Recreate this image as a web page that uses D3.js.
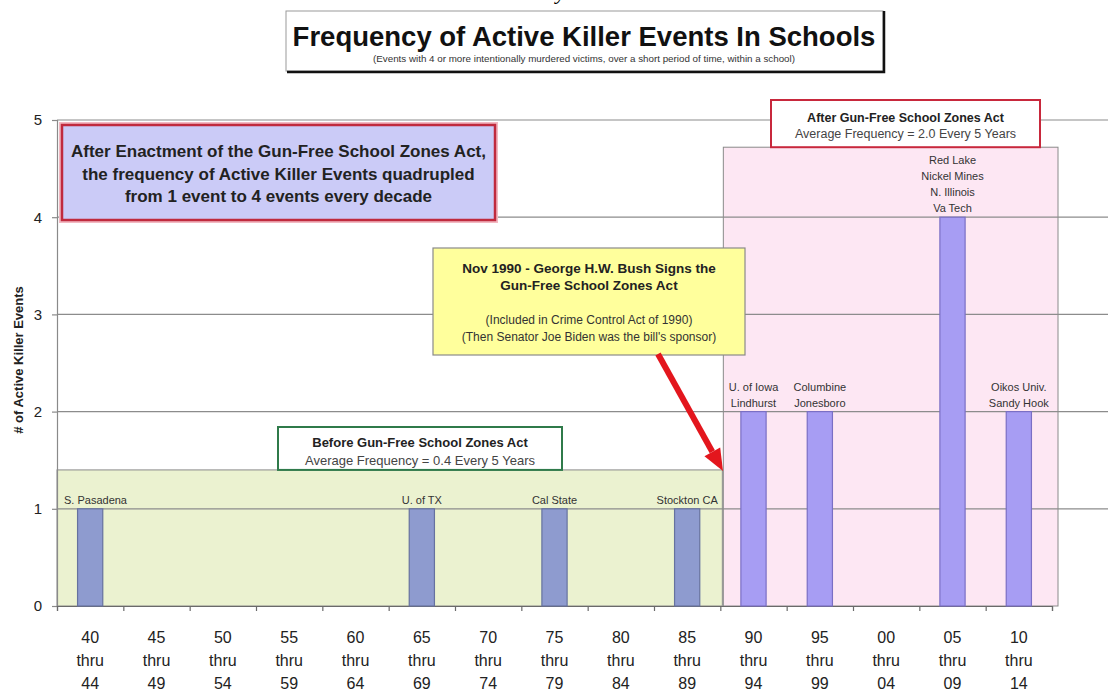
<!DOCTYPE html>
<html><head><meta charset="utf-8">
<script src="https://cdn.jsdelivr.net/npm/d3@7"></script>
<style>
html,body{margin:0;padding:0;background:#fff;}
svg{display:block;font-family:"Liberation Sans",Arial,Helvetica,sans-serif;}
</style></head><body>
<svg id="chart" width="1108" height="693"></svg>
<script>
// ---------------- data ----------------
const periodStart = ["40","45","50","55","60","65","70","75","80","85","90","95","00","05","10"];
const periodEnd   = ["44","49","54","59","64","69","74","79","84","89","94","99","04","09","14"];
const eventCounts = [1,0,0,0,0,1,0,1,0,1,2,2,0,4,2];
const eventNames = [
  ["S. Pasadena"],[],[],[],[],["U. of TX"],[],["Cal State"],[],["Stockton CA"],
  ["U. of Iowa","Lindhurst"],["Columbine","Jonesboro"],[],
  ["Red Lake","Nickel Mines","N. Illinois","Va Tech"],["Oikos Univ.","Sandy Hook"]
];
const actIndex = 10;               // first period after the Act (90 thru 94)
const yTicks = [0,1,2,3,4,5];
const chartTitle = "Frequency of Active Killer Events In Schools";
const chartSubtitle = "(Events with 4 or more intentionally murdered victims, over a short period of time, within a school)";
const yTitle = "# of Active Killer Events";
const summaryLines = ["After Enactment of the Gun-Free School Zones Act,",
  "the frequency of Active Killer Events quadrupled",
  "from 1 event to 4 events every decade"];
const noteBold = ["Nov 1990 - George H.W. Bush Signs the","Gun-Free School Zones Act"];
const noteNormal = ["(Included in Crime Control Act of 1990)","(Then Senator Joe Biden was the bill's sponsor)"];
const beforeLines = ["Before Gun-Free School Zones Act","Average Frequency = 0.4 Every 5 Years"];
const afterLines = ["After Gun-Free School Zones Act","Average Frequency = 2.0 Every 5 Years"];

// ---------------- chart ----------------
const svg = d3.select("#chart");
const W = 1108, H = 693;
const idx = d3.range(periodStart.length);
const x = d3.scaleBand().domain(idx).range([57,1052]).padding(0);
const xLin = d3.scaleLinear().domain([0, idx.length]).range([57,1052]);
const y = d3.scaleLinear().domain([0,5]).range([606,120]);
const bw = x.bandwidth();
const cx = i => x(i) + bw/2;

// stray caption fragment at very top
svg.append("text").attr("x",556).attr("y",-1).attr("font-size",22).attr("font-style","italic")
  .attr("font-family","Liberation Serif, serif").text("y");

// era shading
svg.append("rect").attr("x",x(0)).attr("y",y(1.4)).attr("width",x(actIndex)+2-x(0))
  .attr("height",y(0)-y(1.4)).attr("fill","#ebf2d0").attr("stroke","#8a8a8a").attr("stroke-width",1);
svg.append("rect").attr("x",x(actIndex)+3).attr("y",y(4.72)).attr("width",xLin(idx.length)+6-(x(actIndex)+3))
  .attr("height",y(0)-y(4.72)).attr("fill","#fde7f3").attr("stroke","#8a8a8a").attr("stroke-width",1);

// gridlines
svg.append("g").selectAll("line").data(yTicks.filter(d=>d>0)).join("line")
  .attr("x1",57).attr("x2",W).attr("y1",d=>y(d)).attr("y2",d=>y(d))
  .attr("stroke","#8c8c8c").attr("stroke-width",1.2);

// y axis
const yAxis = svg.append("g").attr("transform","translate(57,0)")
  .call(d3.axisLeft(y).tickValues(yTicks).tickSize(5).tickPadding(10).tickFormat(d3.format("d")));
yAxis.selectAll("path,line").attr("stroke","#8a8a8a").attr("stroke-width",1.2);
yAxis.selectAll("text").attr("font-size",15).attr("fill","#222").attr("font-family","Liberation Sans, Arial, sans-serif");

// x axis (ticks at band boundaries)
const xAxis = svg.append("g").attr("transform",`translate(0,${y(0)})`)
  .call(d3.axisBottom(xLin).tickValues(d3.range(idx.length+1)).tickSize(5).tickFormat(""));
xAxis.selectAll("path,line").attr("stroke","#6a6a6a").attr("stroke-width",1.2);

// x labels
const xl = svg.append("g").attr("font-size",16).attr("fill","#222").attr("text-anchor","middle");
idx.forEach(i=>{
  const lines=[periodStart[i],"thru",periodEnd[i]];
  lines.forEach((t,k)=>xl.append("text").attr("x",cx(i)).attr("y",643+k*23).text(t));
});

// bars
const barW = bw*0.38;
svg.append("g").selectAll("rect").data(idx.filter(i=>eventCounts[i]>0)).join("rect")
  .attr("x",i=>cx(i)-barW/2).attr("width",barW)
  .attr("y",i=>y(eventCounts[i])).attr("height",i=>y(0)-y(eventCounts[i]))
  .attr("fill",i=>i<actIndex?"#8e9bcf":"#a79df3")
  .attr("stroke",i=>i<actIndex?"#66729f":"#7a6fc4").attr("stroke-width",1.2);

// bar labels
const bl = svg.append("g").attr("font-size",11).attr("fill","#333").attr("text-anchor","middle");
idx.forEach(i=>{
  const names=eventNames[i]; const n=names.length;
  names.forEach((t,k)=>{
    const tx = bl.append("text").attr("x",cx(i)).attr("y",y(eventCounts[i])-5-(n-1-k)*16).text(t);
    const w = tx.node().getComputedTextLength();
    if (cx(i)-w/2 < 64) tx.attr("x",64+w/2);
  });
});

// y axis title
svg.append("text").attr("transform","translate(23,360) rotate(-90)").attr("text-anchor","middle")
  .attr("font-size",13).attr("font-weight","bold").attr("fill","#222").text(yTitle);

// title box
svg.append("rect").attr("x",286).attr("y",11).attr("width",597).attr("height",60)
  .attr("fill","#fff").attr("stroke","#9a9a9a").attr("stroke-width",1);
svg.append("path").attr("d","M884,11 V72 H287").attr("fill","none").attr("stroke","#111").attr("stroke-width",2.5);
svg.append("text").attr("x",584).attr("y",46).attr("text-anchor","middle").attr("font-size",27.5)
  .attr("font-weight","bold").attr("fill","#111").text(chartTitle);
svg.append("text").attr("x",584).attr("y",62).attr("text-anchor","middle").attr("font-size",9.8)
  .attr("fill","#333").text(chartSubtitle);

// summary box
svg.append("rect").attr("x",60).attr("y",123).attr("width",437).attr("height",99)
  .attr("fill","none").attr("stroke","#f2b9c2").attr("stroke-width",2);
svg.append("rect").attr("x",62).attr("y",125).attr("width",433).attr("height",95)
  .attr("fill","#cbcbf7").attr("stroke","#c02a3e").attr("stroke-width",2.5);
summaryLines.forEach((t,k)=>svg.append("text").attr("x",278.5).attr("y",157+k*22.5)
  .attr("text-anchor","middle").attr("font-size",17).attr("font-weight","bold").attr("fill","#222").text(t));

// note box
svg.append("rect").attr("x",433).attr("y",248).attr("width",312).attr("height",107)
  .attr("fill","#ffff9c").attr("stroke","#8a8a8a").attr("stroke-width",1.2);
noteBold.forEach((t,k)=>svg.append("text").attr("x",589).attr("y",273+k*17)
  .attr("text-anchor","middle").attr("font-size",13.5).attr("font-weight","bold").attr("fill","#222").text(t));
noteNormal.forEach((t,k)=>svg.append("text").attr("x",589).attr("y",324+k*17)
  .attr("text-anchor","middle").attr("font-size",12).attr("fill","#333").text(t));

// arrow
const tip=[723,471], start=[658,354];
const dx=tip[0]-start[0], dy=tip[1]-start[1], L=Math.hypot(dx,dy), ux=dx/L, uy=dy/L;
const hl=22, hw=9, base=[tip[0]-ux*hl, tip[1]-uy*hl];
svg.append("line").attr("x1",start[0]).attr("y1",start[1]).attr("x2",base[0]).attr("y2",base[1])
  .attr("stroke","#e3161d").attr("stroke-width",6);
svg.append("path").attr("d",`M${tip}L${base[0]-uy*hw},${base[1]+ux*hw}L${base[0]+uy*hw},${base[1]-ux*hw}Z`)
  .attr("fill","#e3161d");

// era boxes
svg.append("rect").attr("x",278).attr("y",427).attr("width",284).attr("height",y(1.4)-427)
  .attr("fill","#fff").attr("stroke","#2f7a4a").attr("stroke-width",2);
beforeLines.forEach((t,k)=>svg.append("text").attr("x",420).attr("y",447+k*18).attr("text-anchor","middle")
  .attr("font-size",13).attr("font-weight",k?"normal":"bold").attr("fill",k?"#444":"#222").text(t));
svg.append("rect").attr("x",771).attr("y",100).attr("width",269).attr("height",y(4.72)-100)
  .attr("fill","#fff").attr("stroke","#c8283c").attr("stroke-width",2);
afterLines.forEach((t,k)=>svg.append("text").attr("x",905.5).attr("y",122+k*16).attr("text-anchor","middle")
  .attr("font-size",12.5).attr("font-weight",k?"normal":"bold").attr("fill",k?"#444":"#222").text(t));
</script>
</body></html>
